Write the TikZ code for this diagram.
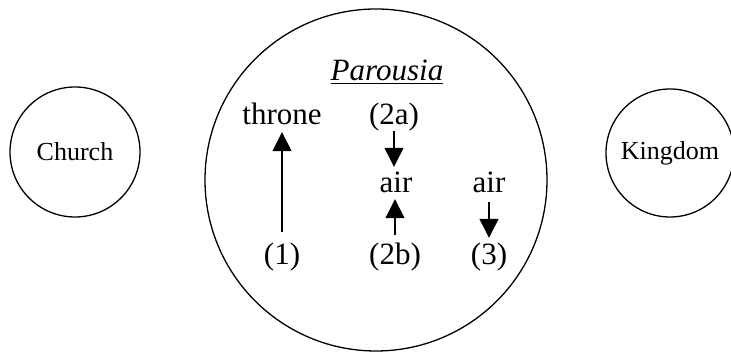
\documentclass[tikz,border=0pt]{standalone}
\usepackage{fontspec}
\setmainfont{Liberation Serif}
\usetikzlibrary{arrows.meta}

\begin{document}
\begin{tikzpicture}[
    x=1pt, y=1pt,
    >={Triangle[length=19pt, width=19pt]}, font=\fontsize{31}{36}\selectfont,
    ring/.style={circle, draw=black, line width=1.3pt, inner sep=0pt, font=\fontsize{26}{30}\selectfont},
    word/.style={inner sep=0pt, anchor=base, text height=22pt, text depth=6pt},
    move/.style={->, line width=1.3pt}
]
    \useasboundingbox (0,0) rectangle (731,352);

    \node[ring, minimum size=130pt] (church) at (75,200) {Church};
    \node[ring, minimum size=342pt] (parousia) at (376,172) {};
    \node[ring, minimum size=128pt] (kingdom) at (670,199) {Kingdom};

    \node[word] (title) at (387,271) {\underline{\textit{Parousia}}};

    \node[word] (throne) at (282,227) {throne};
    \node[word] (two_a) at (394,227) {(2a)};
    \node[word] (air_mid) at (396,159) {air};
    \node[word] (air_right) at (489,159) {air};
    \node[word] (one) at (282,87) {(1)};
    \node[word] (two_b) at (395,87) {(2b)};
    \node[word] (three) at (489,87) {(3)};

    \draw[move, shorten <=11pt, shorten >=1pt] (one.north) -- (throne.south);
    \draw[move, shorten <=0pt, shorten >=4pt] (two_a.south) -- (two_a.south |- air_mid.north);
    \draw[move, shorten <=8pt, shorten >=0pt] (two_b.north) -- (two_b.north |- air_mid.south);
    \draw[move, shorten <=3pt, shorten >=5pt] (air_right.south) -- (three.north);
\end{tikzpicture}
\end{document}
